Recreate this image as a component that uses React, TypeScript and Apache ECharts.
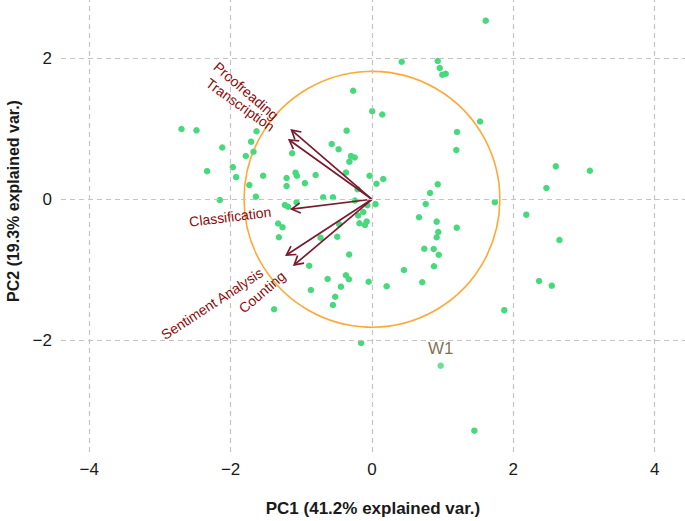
import React, { useEffect, useRef } from "react";
import * as echarts from "echarts";

// PCA scores (PC1, PC2)
const pc1Scores = [
  -2.695, -2.483, -2.118, -2.333, -1.969, -1.922, -1.633, -1.710, -1.676, -1.785,
  -1.540, -1.735, -1.643, -2.153, -1.208, -1.208, -1.081, -1.062, -0.949, -0.797,
  -1.129, -0.569, -0.472, -0.358, -0.297, -0.244, -0.319, -0.368, -0.033, 0.160,
  0.064, -0.203, -0.266, 0.004, 0.146, -0.690, -0.552, -0.241, -0.064, 0.050,
  -1.232, -1.186, -1.327, -1.265, -0.463, -0.194, -0.123, -0.177, -0.099, -0.075,
  -1.067, -1.317, -0.727, -0.491, -0.322, -0.888, -0.627, -0.368, -0.326, -0.864,
  -0.439, -0.047, 0.208, -0.520, -0.552, -1.384, -0.153, 1.610, 0.421, 0.931,
  0.959, 0.996, 1.044, 1.530, 1.204, 1.194, 0.931, 0.822, 0.761, 1.739,
  2.184, 0.666, 0.916, 1.200, 0.939, 0.916, 0.741, 0.874, 0.945, 0.878,
  0.453, 0.712, 1.873, 2.602, 3.084, 2.469, 2.653, 2.365, 2.545, 1.449,
];
const pc2Scores = [
  0.996, 0.977, 0.734, 0.398, 0.455, 0.313, 0.963, 0.816, 0.674, 0.613,
  0.334, 0.203, 0.037, -0.010, 0.302, 0.188, 0.377, 0.334, 0.228, 0.344,
  0.652, 0.783, 0.708, 0.972, 0.613, 0.592, 0.533, 0.380, 0.333, 0.288,
  0.220, 0.142, 1.537, 1.248, 1.201, 0.028, 0.028, -0.017, -0.084, -0.069,
  -0.081, -0.105, -0.343, -0.397, -0.354, -0.229, -0.180, -0.340, -0.364, -0.317,
  -0.042, -0.538, -0.544, -0.530, -0.782, -0.941, -1.129, -1.076, -1.133, -1.285,
  -1.238, -1.169, -1.232, -1.381, -1.497, -1.558, -2.035, 2.530, 1.949, 1.959,
  1.860, 1.765, 1.779, 1.102, 0.953, 0.698, 0.212, 0.089, -0.067, -0.041,
  -0.218, -0.255, -0.317, -0.402, -0.463, -0.538, -0.700, -0.704, -0.785, -0.949,
  -1.001, -1.176, -1.571, 0.467, 0.405, 0.160, -0.576, -1.157, -1.224, -3.278,
];

// Labelled observation
const labelNames = ["W1"];
const labelPc1 = [0.973];
const labelPc2 = [-2.357];

// Variable loadings (arrows)
const varNames = ["Proofreading", "Transcription", "Classification", "Sentiment Analysis", "Counting"];
const loadPc1 = [-1.137, -1.17, -1.137, -1.21, -1.10];
const loadPc2 = [0.98, 0.84, -0.14, -0.79, -0.93];

// Correlation circle radius
const circleRadius = [1.81];

// Axis ticks
const xTicks = [-4, -2, 0, 2, 4];
const yTicks = [-2, 0, 2];

const FONT = "'Liberation Sans', Arial, sans-serif";
const VAR_FONT_SIZE = 14;

function measure(text: string, size: number) {
  const c = document.createElement("canvas").getContext("2d");
  if (!c) return text.length * size * 0.5;
  c.font = `${size}px 'Liberation Sans', Arial, sans-serif`;
  return c.measureText(text).width;
}

const fmt = (v: number) => (v < 0 ? "\u2212" + Math.abs(v) : String(v));

export default function App() {
  const ref = useRef<HTMLDivElement>(null);

  useEffect(() => {
    if (!ref.current) return;
    const chart = echarts.init(ref.current, null, { renderer: "svg" });

    const points = pc1Scores.map((x, i) => [x, pc2Scores[i]]);
    const labelled = labelNames.map((n, i) => ({ name: n, value: [labelPc1[i], labelPc2[i]] }));
    const arrows = varNames.map((n, i) => ({ name: n, value: [loadPc1[i], loadPc2[i]] }));

    const option: any = {
      animation: false,
      backgroundColor: "#ffffff",
      grid: { left: 61, right: 0, top: 0, bottom: 69, containLabel: false },
      xAxis: {
        type: "value",
        min: -4.4,
        max: 4.43,
        splitLine: { show: false },
        axisLine: { show: false },
        axisTick: { show: false },
        axisLabel: {
          customValues: xTicks,
          formatter: (v: number) => fmt(v),
          fontSize: 17,
          fontFamily: FONT,
          color: "#1a1a1a",
          margin: 9,
        },
      },
      yAxis: {
        type: "value",
        min: -3.58,
        max: 2.823,
        splitLine: { show: false },
        axisLine: { show: false },
        axisTick: { show: false },
        axisLabel: {
          customValues: yTicks,
          formatter: (v: number) => fmt(v),
          fontSize: 17,
          fontFamily: FONT,
          color: "#1a1a1a",
          margin: 9,
        },
      },
      graphic: [
        {
          type: "text",
          x: 373,
          y: 508,
          style: {
            text: "PC1 (41.2% explained var.)",
            font: `bold 17px ${FONT}`,
            fill: "#1a1a1a",
            align: "center",
            verticalAlign: "middle",
          },
        },
        {
          type: "text",
          x: 13,
          y: 201,
          rotation: Math.PI / 2,
          style: {
            text: "PC2 (19.3% explained var.)",
            font: `bold 16px ${FONT}`,
            fill: "#1a1a1a",
            align: "center",
            verticalAlign: "middle",
          },
        },
      ],
      series: [
        {
          type: "scatter",
          data: [],
          silent: true,
          markLine: {
            silent: true,
            symbol: "none",
            label: { show: false },
            lineStyle: { color: "#c4c4c4", type: [5, 4], width: 1.2 },
            data: [
              ...xTicks.map((v) => ({ xAxis: v })),
              ...yTicks.map((v) => ({ yAxis: v })),
            ],
          },
        },
        {
          type: "custom",
          data: circleRadius.map((r) => [0, 0, r]),
          renderItem: (params: any, api: any) => {
            const c = api.coord([api.value(0), api.value(1)]);
            const s = api.size([api.value(2), api.value(2)]);
            return {
              type: "circle",
              shape: { cx: c[0], cy: c[1], r: s[0] },
              style: { fill: "none", stroke: "#ffa836", lineWidth: 1.6 },
            };
          },
          silent: true,
          z: 2,
        },
        {
          type: "scatter",
          data: points,
          symbolSize: 6.5,
          itemStyle: { color: "#47d97c", opacity: 1 },
          z: 3,
        },
        {
          type: "scatter",
          data: labelled,
          symbolSize: 6.5,
          itemStyle: { color: "#47d97c" },
          label: {
            show: true,
            position: "top",
            distance: 5,
            formatter: (p: any) => p.name,
            fontSize: 17,
            fontFamily: FONT,
            color: "#5e4b2a",
          },
          z: 3,
        },
        {
          type: "custom",
          data: arrows,
          z: 4,
          silent: true,
          renderItem: (params: any, api: any) => {
            const x = api.value(0);
            const y = api.value(1);
            const o = api.coord([0, 0]);
            const p = api.coord([x, y]);
            const ang = Math.atan2(p[1] - o[1], p[0] - o[0]);
            const L = 10;
            const a = Math.PI / 6;
            const b1 = [p[0] - L * Math.cos(ang - a), p[1] - L * Math.sin(ang - a)];
            const b2 = [p[0] - L * Math.cos(ang + a), p[1] - L * Math.sin(ang + a)];
            const name = varNames[params.dataIndex];
            const w = measure(name, VAR_FONT_SIZE);
            const rot = Math.atan(y / x);
            const stroke = { stroke: "#7a1a2e", lineWidth: 1.7, fill: "none" };
            return {
              type: "group",
              children: [
                { type: "line", shape: { x1: o[0], y1: o[1], x2: p[0], y2: p[1] }, style: stroke },
                { type: "polyline", shape: { points: [b1, p, b2] }, style: stroke },
                {
                  type: "text",
                  x: p[0],
                  y: p[1],
                  rotation: rot,
                  style: {
                    text: name,
                    x: -0.25 * w,
                    y: 0,
                    align: "right",
                    verticalAlign: "middle",
                    fill: "#8b0b0b",
                    fontSize: VAR_FONT_SIZE,
                    fontFamily: FONT,
                  },
                },
              ],
            };
          },
        },
      ],
    };

    chart.setOption(option);
    return () => chart.dispose();
  }, []);

  return (
    <div
      ref={ref}
      style={{ position: "fixed", left: 0, top: 0, width: 685, height: 521, background: "#fff" }}
    />
  );
}
